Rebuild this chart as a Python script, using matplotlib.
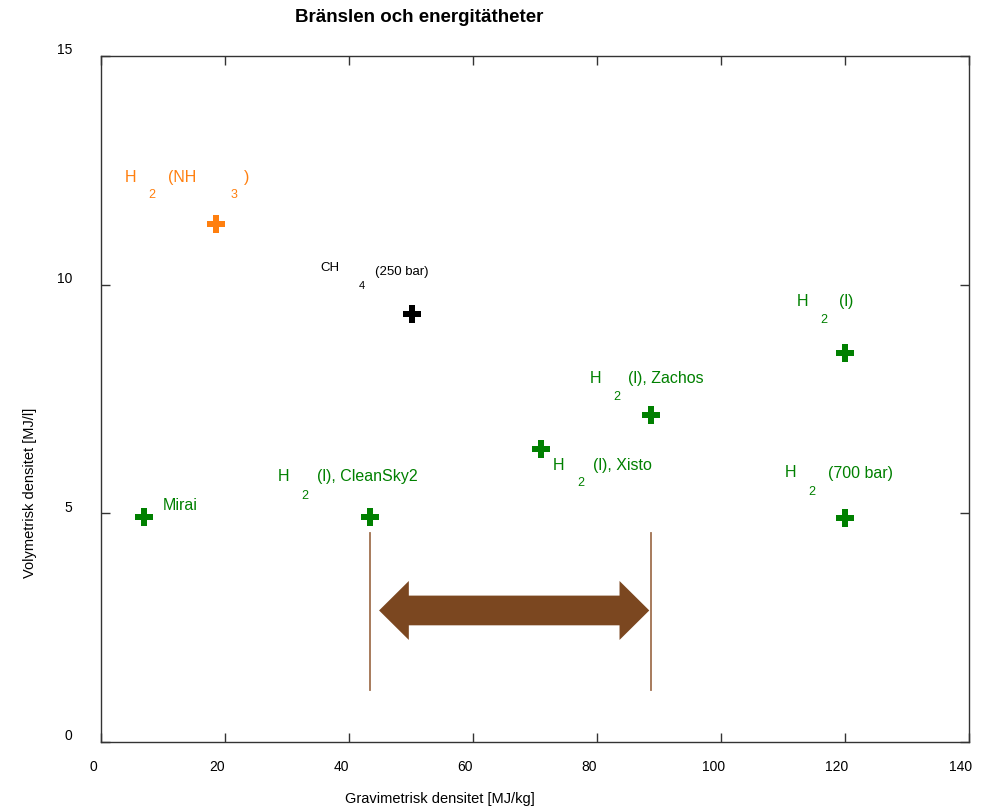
import matplotlib
matplotlib.use("Agg")
import matplotlib.pyplot as plt
import matplotlib.transforms as mtransforms
from matplotlib.patches import Polygon

plt.rcParams['font.family'] = ['Liberation Sans', 'DejaVu Sans']

# fuels: gravimetric [MJ/kg] vs volumetric [MJ/l]
fuel_names = ["H2(NH3)", "CH4 (250 bar)", "H2(l)", "H2(l), Zachos", "H2(l), Xisto",
              "H2(l), CleanSky2", "Mirai", "H2 (700 bar)"]
grav = [18.5, 50.1, 120.0, 88.7, 70.9, 43.3, 6.9, 120.0]
vol = [11.32, 9.35, 8.51, 7.15, 6.41, 4.92, 4.92, 4.90]
colors = ["#ff7f0e", "black", "green", "green", "green", "green", "green", "green"]

# range marker between CleanSky2 and Zachos
range_x = [43.3, 88.6]
range_y = [1.13, 4.57]
arrow_x = [44.8, 88.4]
arrow_y = 2.87

x_ticks = [0, 20, 40, 60, 80, 100, 120, 140]
y_ticks = [0, 5, 10, 15]

# label pieces: (text, dx px, dy px, fontsize), offsets from the marker
label_pieces = {
    "H2(NH3)": [("H", -91, 47, 11.5), ("2", -68, 29, 9), ("(NH", -48, 47, 11.5),
                ("3", 14, 29, 9), (")", 28, 47, 11.5)],
    "CH4 (250 bar)": [("CH", -92, 46, 9.5), ("4", -53, 28, 8), ("(250 bar)", -37, 42, 9.5)],
    "H2(l)": [("H", -48, 51, 11.5), ("2", -25, 33, 9), ("(l)", -6, 51, 11.5)],
    "H2(l), Zachos": [("H", -61, 36, 11.5), ("2", -38, 18, 9), ("(l), Zachos", -23, 36, 11.5)],
    "H2(l), Xisto": [("H", 12, -17, 11.5), ("2", 36, -34, 9), ("(l), Xisto", 52, -17, 11.5)],
    "H2(l), CleanSky2": [("H", -92, 40, 11.5), ("2", -68, 21, 9), ("(l), CleanSky2", -53, 40, 11.5)],
    "Mirai": [("Mirai", 19, 11, 11.5)],
    "H2 (700 bar)": [("H", -60, 45, 11.5), ("2", -37, 26, 9), ("(700 bar)", -17, 44, 11.5)],
}

fig = plt.figure(figsize=(9.87, 8.11), dpi=100)
ax = fig.add_axes([0.1028, 0.0855, 0.879, 0.8455])

for name, gx, vy, c in zip(fuel_names, grav, vol, colors):
    ax.plot(gx, vy, marker="P", markersize=12.5, markeredgewidth=0, color=c, linestyle="none")
    for txt, dx, dy, fs in label_pieces[name]:
        ax.annotate(txt, (gx, vy), xytext=(dx, dy), textcoords="offset pixels",
                    ha="left", va="center", fontsize=fs, color=c)

for rx in range_x:
    ax.plot([rx, rx], range_y, color="#a0714f", linewidth=1.3)

# double-headed block arrow as one polygon
body_hw = 0.325   # half body height (data y)
head_hw = 0.645   # half head height (data y)
head_len = 4.8    # head length (data x)
x0, x1 = arrow_x
verts = [(x0, arrow_y), (x0 + head_len, arrow_y + head_hw), (x0 + head_len, arrow_y + body_hw),
         (x1 - head_len, arrow_y + body_hw), (x1 - head_len, arrow_y + head_hw), (x1, arrow_y),
         (x1 - head_len, arrow_y - head_hw), (x1 - head_len, arrow_y - body_hw),
         (x0 + head_len, arrow_y - body_hw), (x0 + head_len, arrow_y - head_hw)]
ax.add_patch(Polygon(verts, closed=True, facecolor="#7b4720", edgecolor="none"))

ax.set_xlim(0, 140)
ax.set_ylim(0, 15)
ax.set_xticks(x_ticks)
ax.set_yticks(y_ticks)
ax.tick_params(direction="in", length=6.5, width=1, colors="#333333",
               top=True, right=True, labelsize=10, labelcolor="black")
ax.tick_params(axis="x", pad=13)
ax.tick_params(axis="y", pad=21)
for lab in ax.get_xticklabels():
    lab.set_transform(lab.get_transform() + mtransforms.ScaledTranslation(-8 / 100, 0, fig.dpi_scale_trans))
for lab in ax.get_yticklabels():
    lab.set_transform(lab.get_transform() + mtransforms.ScaledTranslation(0, 7 / 100, fig.dpi_scale_trans))
for s in ax.spines.values():
    s.set_color("#333333")
    s.set_linewidth(1.0)

fig.text(419 / 987, 1 - 17 / 811, "Bränslen och energitätheter", ha="center", va="center",
         fontsize=13.5, fontweight="bold")
fig.text(440 / 987, 1 - 799 / 811, "Gravimetrisk densitet [MJ/kg]", ha="center", va="center",
         fontsize=10.5)
fig.text(30 / 987, 1 - 493 / 811, "Volymetrisk densitet [MJ/l]", ha="center", va="center",
         fontsize=10.5, rotation=90)

fig.savefig("out.png", dpi=100)
